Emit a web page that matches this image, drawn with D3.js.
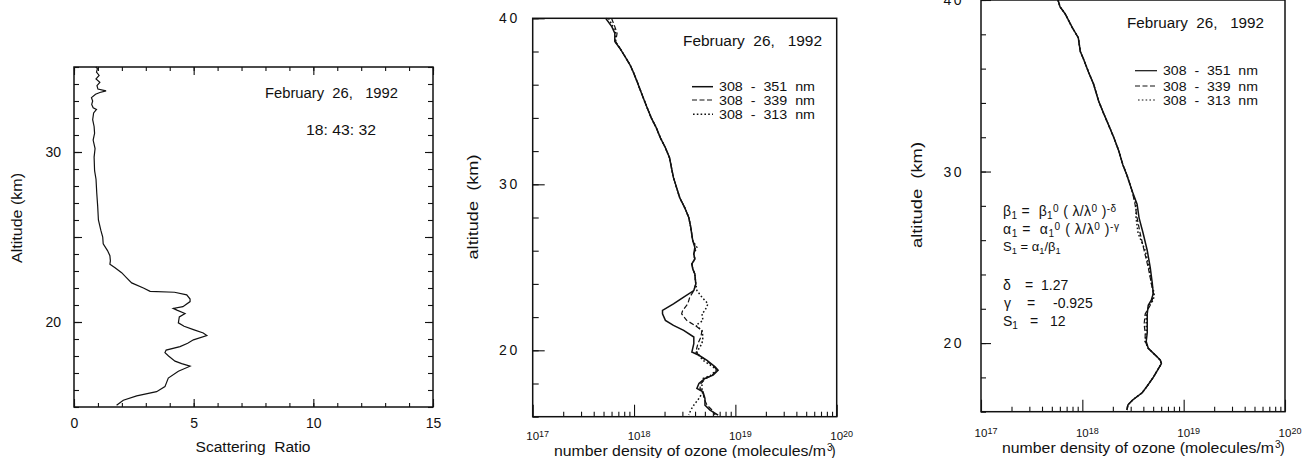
<!DOCTYPE html>
<html>
<head>
<meta charset="utf-8">
<script src="https://cdn.jsdelivr.net/npm/d3@7"></script>
<style>
body { margin: 0; background: #fff; }
svg { font-family: "Liberation Sans", Arial, Helvetica, sans-serif; }
text { fill: #111; white-space: pre; }
</style>
</head>
<body>
<div id="chart"></div>
<script>
// ---- left panel: lidar scattering ratio vs altitude ----
var scatAlt = [15.1, 15.4, 15.65, 15.9, 16.2, 16.7, 17.1, 17.4, 17.55, 17.7,
    18.0, 18.2, 18.35, 18.55, 18.75, 18.95, 19.2, 19.35, 19.55, 19.75,
    19.95, 20.3, 20.5, 20.7, 20.8, 20.9, 21.2, 21.35, 21.6, 21.75,
    21.8, 22.0, 22.3, 22.6, 22.9, 23.2, 23.4, 23.6, 23.9, 24.2,
    24.6, 25.0, 25.4, 26.0, 26.8, 27.6, 28.4, 28.9, 29.7, 30.2,
    30.7, 31.1, 31.5, 31.9, 32.3, 32.5, 32.6, 32.8, 33.0, 33.2,
    33.4, 33.5, 33.6, 33.7, 33.9, 34.1, 34.3, 34.5, 34.7, 34.9, 35.0];
var scatRatio = [1.78, 2.06, 2.62, 3.45, 3.8, 3.94, 4.36, 4.85, 4.5, 4.22,
    3.95, 3.8, 3.85, 4.43, 4.75, 4.99, 5.55, 5.4, 4.99, 4.6,
    4.36, 4.4, 4.64, 4.3, 4.15, 4.55, 4.85, 4.85, 4.71, 4.2,
    3.18, 2.9, 2.41, 2.2, 1.99, 1.7, 1.5, 1.52, 1.5, 1.4,
    1.22, 1.2, 1.12, 1.02, 0.99, 0.95, 0.92, 0.86, 0.84, 0.88,
    0.8, 0.86, 0.84, 0.78, 0.82, 0.94, 0.8, 0.74, 0.78, 0.73,
    0.9, 1.08, 1.34, 1.0, 0.96, 1.08, 0.92, 1.05, 0.94, 0.98, 0.91];
var scatXTicks = [0, 5, 10, 15];
var scatYTicks = [20, 30];

// ---- middle panel: ozone number density (units of 1e18 molecules/m3) ----
var ozMidAlt = [40, 39.5, 39.1, 38.6, 38.2, 37.7, 37.2, 36.8, 36.2, 35.4,
    34.6, 34.0, 33.4, 32.8, 32.2, 31.6, 31.0, 30.4, 29.8, 29.2,
    28.6, 28.0, 27.4, 26.6, 26.2, 25.8, 25.5, 25.2, 24.9, 24.6,
    24.0, 23.6, 23.2, 22.8, 22.4, 22.2, 21.8, 21.5, 21.2, 20.8,
    20.4, 19.9, 19.7, 19.4, 19.0, 18.8, 18.5, 18.3, 18.0, 17.7,
    17.5, 17.1, 16.7, 16.4, 16.1];
var ozMid351 = [0.525, 0.603, 0.646, 0.646, 0.724, 0.813, 0.912, 0.977, 1.07, 1.20,
    1.35, 1.48, 1.66, 1.82, 2.04, 2.24, 2.34, 2.45, 2.63, 2.82,
    3.16, 3.47, 3.63, 3.80, 3.98, 3.89, 3.98, 3.72, 3.80, 3.98,
    4.07, 3.89, 3.09, 2.45, 1.91, 1.91, 2.04, 2.45, 3.09, 3.89,
    3.89, 3.72, 4.37, 5.25, 6.31, 6.76, 6.03, 5.01, 4.37, 4.17,
    4.79, 5.01, 5.01, 5.62, 6.76];
var ozMid339 = [0.60, 0.646, 0.68, 0.66, 0.724, 0.813, 0.912, 0.977, 1.07, 1.20,
    1.35, 1.48, 1.66, 1.82, 2.04, 2.24, 2.34, 2.45, 2.63, 2.82,
    3.16, 3.47, 3.63, 3.80, 4.07, 3.89, 3.98, 3.72, 3.80, 3.98,
    4.07, 3.89, 3.55, 3.39, 3.02, 2.95, 3.31, 3.98, 4.68, 4.57,
    4.27, 4.07, 4.37, 5.13, 6.17, 6.61, 5.89, 5.13, 4.57, 4.47,
    4.79, 4.90, 5.25, 5.89, 6.31];
var ozMid313 = [0.56, 0.62, 0.66, 0.65, 0.724, 0.813, 0.912, 0.977, 1.07, 1.20,
    1.35, 1.48, 1.66, 1.82, 2.04, 2.24, 2.34, 2.45, 2.63, 2.82,
    3.16, 3.47, 3.63, 3.80, 4.17, 3.89, 3.98, 3.72, 3.80, 3.98,
    4.07, 4.17, 4.68, 5.37, 5.01, 4.68, 4.79, 4.07, 4.68, 4.79,
    4.68, 4.17, 4.37, 4.79, 6.03, 6.46, 5.75, 4.79, 4.68, 4.68,
    4.79, 4.37, 3.89, 3.63, 3.47];

// ---- right panel: ozone after aerosol correction ----
var ozRightAlt = [40, 39.6, 39.2, 38.4, 37.8, 37.0, 36.6, 35.8, 35.1, 34.1,
    33.4, 32.7, 32.0, 31.2, 30.4, 29.8, 28.9, 28.1, 27.3, 26.4,
    25.4, 24.4, 23.5, 22.9, 22.5, 22.2, 21.7, 21.1, 20.6, 20.1,
    19.7, 19.3, 19.0, 18.8, 18.5, 18.0, 17.5, 17.1, 16.7, 16.4, 16.1];
var ozRight351 = [0.575, 0.603, 0.676, 0.794, 0.912, 0.955, 1.02, 1.15, 1.29, 1.45,
    1.62, 1.82, 2.04, 2.29, 2.51, 2.75, 3.09, 3.47, 3.63, 3.98,
    4.37, 4.68, 4.90, 5.01, 4.79, 4.47, 4.37, 4.37, 4.37, 4.27,
    4.47, 5.25, 5.89, 6.03, 5.62, 5.01, 4.37, 3.89, 3.16, 2.82, 2.75];
var ozRight339 = [0.575, 0.603, 0.676, 0.794, 0.912, 0.955, 1.02, 1.15, 1.29, 1.45,
    1.62, 1.82, 2.04, 2.29, 2.51, 2.75, 3.09, 3.31, 3.47, 3.72,
    4.07, 4.47, 4.79, 5.01, 4.90, 4.68, 4.17, 4.07, 4.17, 4.17,
    4.47, 5.25, 5.89, 6.03, 5.62, 5.01, 4.37, 3.89, 3.16, 2.82, 2.75];
var ozRight313 = [0.575, 0.603, 0.676, 0.794, 0.912, 0.955, 1.02, 1.15, 1.29, 1.45,
    1.62, 1.82, 2.04, 2.29, 2.51, 2.75, 3.09, 3.39, 3.39, 3.55,
    4.17, 4.57, 4.79, 5.13, 5.01, 4.57, 4.27, 4.27, 4.27, 4.17,
    4.47, 5.25, 5.89, 6.03, 5.62, 5.01, 4.37, 3.89, 3.16, 2.82, 2.75];

var ozExponents = [17, 18, 19, 20];
var ozYTicks = [20, 30, 40];
var legendNames = ['308 - 351 nm', '308 - 339 nm', '308 - 313 nm'];
var dateText = 'February  26,   1992';

var ink = '#111';
// solid, dashed, dotted -- same order as legendNames
var dashes = [null, '5,2.5', '1.6,2.2'];
var widths = [1.5, 1.2, 1.5];

var svg = d3.select('#chart').append('svg')
    .attr('width', 1310)
    .attr('height', 458);

// axis helper: ticks point into the frame, domain line removed
function addAxis(axis, translate, values, size, pad, fontSize) {
    axis.tickValues(values).tickSizeInner(-size).tickSizeOuter(0);
    if (pad == null) axis.tickFormat('');
    else axis.tickPadding(pad);
    var g = svg.append('g').attr('transform', translate).call(axis);
    g.select('.domain').remove();
    g.selectAll('line').attr('stroke', ink).attr('stroke-width', 1.1);
    g.attr('font-family', null).attr('font-size', fontSize || 14);
    return g;
}

function frame(x, y) {
    var r = x.range(), s = y.range();
    svg.append('rect')
        .attr('x', r[0]).attr('y', s[1])
        .attr('width', r[1] - r[0]).attr('height', s[0] - s[1])
        .attr('fill', 'none').attr('stroke', ink).attr('stroke-width', 1.5);
}

function label(x, y, str, size, opts) {
    opts = opts || {};
    var t = svg.append('text')
        .attr('x', x).attr('y', y)
        .attr('font-size', size)
        .attr('text-anchor', opts.anchor || 'start')
        .text(str);
    if (opts.len) t.attr('textLength', opts.len).attr('lengthAdjust', 'spacingAndGlyphs');
    if (opts.rotate) t.attr('transform', 'rotate(-90,' + x + ',' + y + ')');
    return t;
}

// text made of normal / sub (+1) / sup (-1) pieces
function richText(x, y, parts, size, len) {
    var t = svg.append('text').attr('x', x).attr('y', y).attr('font-size', size);
    var cur = 0;
    parts.forEach(function(p) {
        var shift = p[1] === 1 ? 3 : p[1] === -1 ? -4 : 0;
        t.append('tspan')
            .attr('dy', shift - cur)
            .attr('font-size', p[1] ? size * 0.72 : size)
            .text(p[0]);
        cur = shift;
    });
    if (len) t.attr('textLength', len).attr('lengthAdjust', 'spacing');
    return t;
}

// ================= left panel =================
var xScat = d3.scaleLinear().domain([0, 15]).range([74, 433]);
var yScat = d3.scaleLinear().domain([15, 35]).range([407, 67]);

frame(xScat, yScat);
addAxis(d3.axisBottom(xScat), 'translate(0,407)', d3.range(0, 16), 4);
addAxis(d3.axisBottom(xScat), 'translate(0,407)', scatXTicks, 8, 11);
addAxis(d3.axisTop(xScat), 'translate(0,67)', d3.range(0, 16), 4);
addAxis(d3.axisTop(xScat), 'translate(0,67)', scatXTicks, 8);
addAxis(d3.axisLeft(yScat), 'translate(74,0)', d3.range(15, 36), 5);
addAxis(d3.axisLeft(yScat), 'translate(74,0)', [20, 25, 30], 8);
addAxis(d3.axisLeft(yScat), 'translate(74,0)', scatYTicks, 8, 13);
addAxis(d3.axisRight(yScat), 'translate(433,0)', d3.range(15, 36), 5);
addAxis(d3.axisRight(yScat), 'translate(433,0)', [20, 25, 30], 8);

svg.append('path')
    .attr('d', d3.line()
        .x(function(d, i) { return xScat(scatRatio[i]); })
        .y(function(d) { return yScat(d); })(scatAlt))
    .attr('fill', 'none').attr('stroke', ink).attr('stroke-width', 1.2);

label(265, 98, dateText, 14, { len: 133 });
label(306, 135, '18: 43: 32', 14, { len: 70 });
label(253, 452, 'Scattering  Ratio', 14, { anchor: 'middle', len: 115 });
label(22, 218, 'Altitude (km)', 14, { anchor: 'middle', len: 90, rotate: true });

// ================= ozone panels =================
function ozonePanel(x0, x1, yTop, yBot, alt, series, opt) {
    var x = d3.scaleLog().domain([1e17, 1e20]).range([x0, x1]);
    var y = d3.scaleLinear().domain([16, 40]).range([yBot, yTop]);
    frame(x, y);

    var minor = [];
    [17, 18, 19].forEach(function(e) {
        d3.range(2, 10).forEach(function(m) { minor.push(m * Math.pow(10, e)); });
    });
    var major = ozExponents.map(function(e) { return Math.pow(10, e); });
    addAxis(d3.axisBottom(x), 'translate(0,' + yBot + ')', minor, 5);
    addAxis(d3.axisBottom(x), 'translate(0,' + yBot + ')', major, 12);
    addAxis(d3.axisLeft(y), 'translate(' + x0 + ',0)', d3.range(16, 41, 2), opt.minorY);
    var gy = addAxis(d3.axisLeft(y), 'translate(' + x0 + ',0)', ozYTicks, opt.majorY, opt.yPad);
    gy.selectAll('text').attr('letter-spacing', 2.5);

    ozExponents.forEach(function(e) {
        var t = svg.append('text')
            .attr('x', x(Math.pow(10, e)) + 5).attr('y', opt.tickY)
            .attr('text-anchor', 'middle').attr('font-size', 11.5);
        t.append('tspan').text('10');
        t.append('tspan').attr('dy', -3).attr('font-size', 9).text(e);
    });

    // draw dotted first, solid last so the solid line sits on top
    [2, 1, 0].forEach(function(k) {
        var vals = series[k];
        svg.append('path')
            .attr('d', d3.line()
                .x(function(d, i) { return x(vals[i] * 1e18); })
                .y(function(d) { return y(d); })(alt))
            .attr('fill', 'none').attr('stroke', ink)
            .attr('stroke-width', widths[k])
            .attr('stroke-dasharray', dashes[k]);
    });
}

// middle
ozonePanel(532.7, 836.7, 18.3, 416.7, ozMidAlt, [ozMid351, ozMid339, ozMid313],
    { minorY: 6, majorY: 12, yPad: 13, tickY: 440 });
label(683, 46, dateText, 14, { len: 139 });
legendNames.forEach(function(n, i) {
    var yy = [86.7, 100, 114.3][i];
    svg.append('line').attr('x1', i === 2 ? 693 : 692).attr('x2', 713).attr('y1', yy).attr('y2', yy)
        .attr('stroke', ink).attr('stroke-width', widths[i]).attr('stroke-dasharray', dashes[i]);
    label(719, yy + 4.5, n.replace(/ - /, '  -  ').replace(' nm', '  nm'), 13, { len: 96 });
});
label(826, 456, 'number density of ozone (molecules/m', 14, { anchor: 'end', len: 272 });
label(827, 451, '3', 10);
label(831, 456, ')', 14);
label(478, 207, 'altitude  (km)', 15, { anchor: 'middle', len: 105, rotate: true });

// right
ozonePanel(981, 1285, 0, 411.7, ozRightAlt, [ozRight351, ozRight339, ozRight313],
    { minorY: 5, majorY: 10, yPad: 17, tickY: 437 });
label(1127, 28, dateText, 14, { len: 137 });
legendNames.forEach(function(n, i) {
    var yy = [70.7, 86, 100][i];
    svg.append('line').attr('x1', i === 2 ? 1138 : 1135).attr('x2', 1157).attr('y1', yy).attr('y2', yy)
        .attr('stroke', ink).attr('stroke-width', 1.2).attr('stroke-dasharray', dashes[i]);
    label(1163, yy + 4.5, n.replace(/ - /, '  -  ').replace(' nm', '  nm'), 13, { len: 95 });
});
label(1274, 453, 'number density of ozone (molecules/m', 14, { anchor: 'end', len: 272 });
label(1275, 448, '3', 10);
label(1280, 453, ')', 14);
label(922, 195, 'altitude  (km)', 15, { anchor: 'middle', len: 106, rotate: true });

richText(1003, 216, [['\u03b2', 0], ['1', 1], [' =  \u03b2', 0], ['1', 1], ['0', -1],
    [' ( \u03bb/\u03bb', 0], ['0', -1], [' )', 0], ['-\u03b4', -1]], 14, 113);
richText(1003, 234, [['\u03b1', 0], ['1', 1], [' =  \u03b1', 0], ['1', 1], ['0', -1],
    [' ( \u03bb/\u03bb', 0], ['0', -1], [' )', 0], ['-\u03b3', -1]], 14, 116);
richText(1003, 251, [['S', 0], ['1', 1], [' = \u03b1', 0], ['1', 1], ['/\u03b2', 0], ['1', 1]], 13);
label(1003, 290, '\u03b4', 14);
label(1025, 290, '=', 14);
label(1041, 290, '1.27', 14);
label(1004, 308, '\u03b3', 14);
label(1027, 308, '=', 14);
label(1053, 308, '-0.925', 14);
richText(1003, 326, [['S', 0], ['1', 1]], 14);
label(1030, 326, '=', 14);
label(1050, 326, '12', 14);
</script>
</body>
</html>
